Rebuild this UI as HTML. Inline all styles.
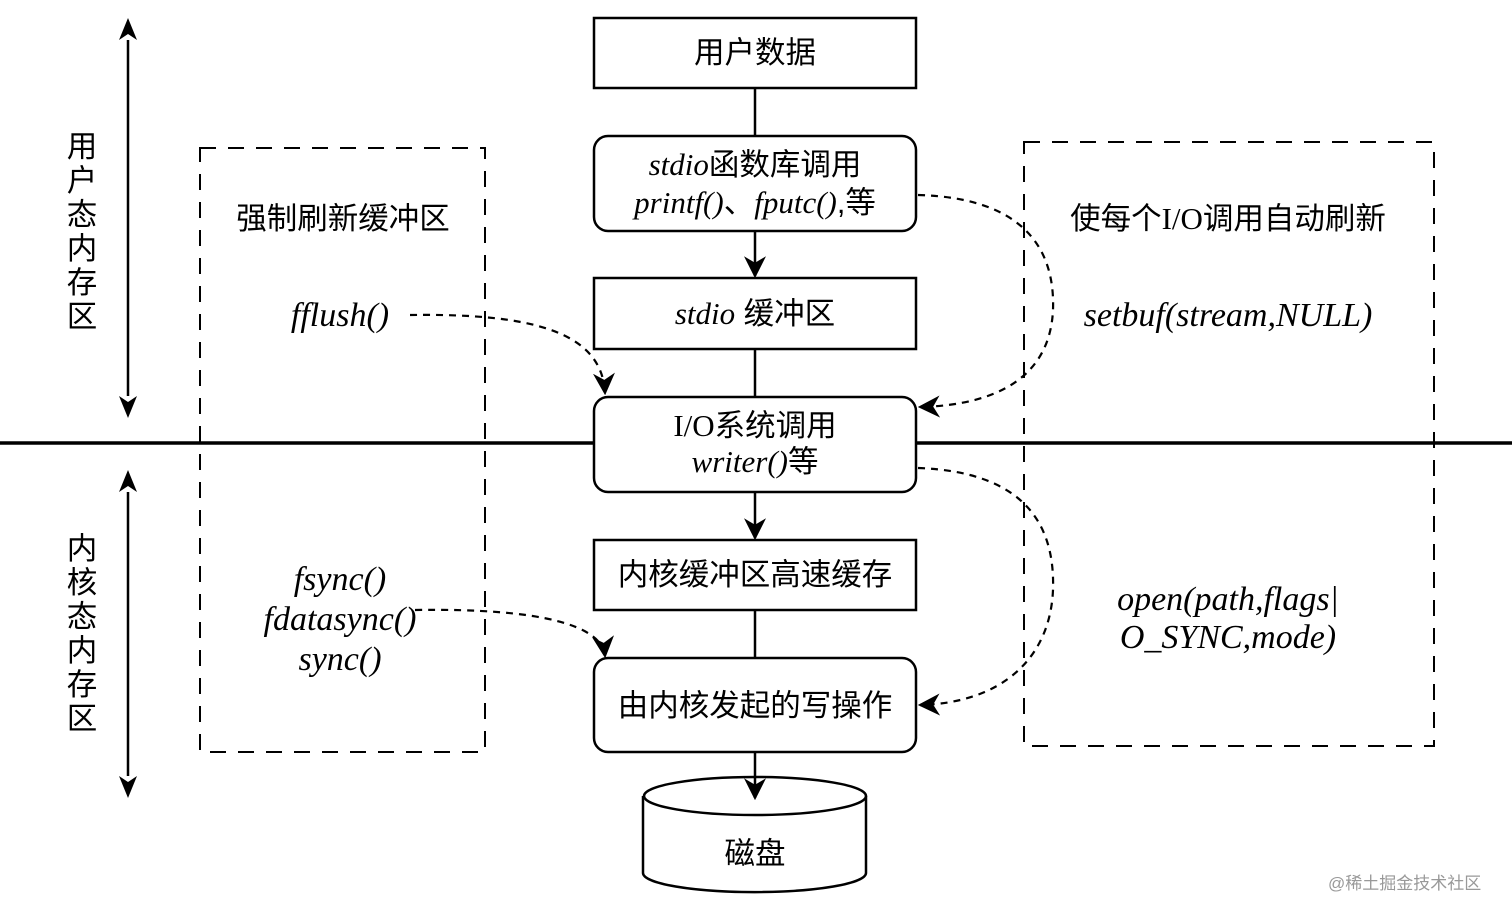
<!DOCTYPE html>
<html><head><meta charset="utf-8"><style>
html,body{margin:0;padding:0;background:#fff;}
svg{display:block;}
text{font-family:"Liberation Sans","Noto Sans CJK SC",sans-serif;fill:#000;}
.it{font-family:"Liberation Serif","Noto Serif CJK SC",serif;font-style:italic;}
</style></head><body>
<svg width="1512" height="917" viewBox="0 0 1512 917" xmlns="http://www.w3.org/2000/svg">
<defs>
<marker id="b" viewBox="0 0 10 10" refX="9" refY="5" markerWidth="22" markerHeight="22" markerUnits="userSpaceOnUse" orient="auto"><path d="M0,0 L10,5 L0,10 L3,5 z" fill="#000"/></marker>
</defs>
<g stroke="#000" stroke-width="2.5" fill="none">
<line x1="0" y1="443" x2="594" y2="443" stroke-width="3.5"/>
<line x1="916" y1="443" x2="1512" y2="443" stroke-width="3.5"/>
<line x1="755" y1="88" x2="755" y2="136"/>
<line x1="755" y1="231" x2="755" y2="276" marker-end="url(#b)"/>
<line x1="755" y1="349" x2="755" y2="397"/>
<line x1="755" y1="492" x2="755" y2="538" marker-end="url(#b)"/>
<line x1="755" y1="610" x2="755" y2="658"/>
<line x1="128" y1="40" x2="128" y2="396"/>
<line x1="128" y1="492" x2="128" y2="776"/>
<rect x="594" y="18" width="322" height="70" fill="#fff"/>
<rect x="594" y="136" width="322" height="95" rx="14" fill="#fff"/>
<rect x="594" y="278" width="322" height="71" fill="#fff"/>
<rect x="594" y="397" width="322" height="95" rx="14" fill="#fff"/>
<rect x="594" y="540" width="322" height="70" fill="#fff"/>
<rect x="594" y="658" width="322" height="94" rx="14" fill="#fff"/>
<path d="M643,796 L643,873 A111,19 0 0 0 866,873 L866,796" fill="#fff"/>
<ellipse cx="755" cy="796" rx="111" ry="19" fill="#fff"/>
<line x1="755" y1="752" x2="755" y2="798" marker-end="url(#b)"/>
<g stroke-width="2" stroke-dasharray="16,12">
<rect x="200" y="148" width="285" height="604"/>
<rect x="1024" y="142" width="410" height="604"/>
</g>
<g stroke-width="2.2" stroke-dasharray="7,6">
<path d="M410,315 C540,313 602,335 605,393" marker-end="url(#b)"/>
<path d="M918,195 C1030,198 1055,255 1053,310 C1050,375 1000,405 920,407" marker-end="url(#b)"/>
<path d="M918,468 C1030,472 1055,530 1053,590 C1050,660 1000,703 920,705" marker-end="url(#b)"/>
<path d="M415,610 C540,608 602,625 605,656" marker-end="url(#b)"/>
</g>
</g>
<path d="M128,18 L119,40 L128,34 L137,40 z M128,418 L119,396 L128,402 L137,396 z M128,470 L119,492 L128,486 L137,492 z M128,798 L119,776 L128,782 L137,776 z" fill="#000"/>
<g text-anchor="middle" style="font-size:30.5px">
<text x="755" y="63">用户数据</text>
<text x="755" y="175"><tspan class="it" style="font-size:31px">stdio</tspan>函数库调用</text>
<text x="755" y="213"><tspan class="it" style="font-size:31px">printf()</tspan>、<tspan class="it" style="font-size:31px">fputc()</tspan>,等</text>
<text x="755" y="324"><tspan class="it" style="font-size:31px">stdio</tspan> 缓冲区</text>
<text x="755" y="436"><tspan class="it" style="font-style:normal;font-family:'Liberation Serif',serif;font-size:31px">I/O</tspan>系统调用</text>
<text x="755" y="472"><tspan class="it" style="font-size:31px">writer()</tspan>等</text>
<text x="755" y="585">内核缓冲区高速缓存</text>
<text x="755" y="716">由内核发起的写操作</text>
<text x="755" y="864">磁盘</text>
<text x="343" y="229">强制刷新缓冲区</text>
<text x="340" y="326" class="it" style="font-size:34px">fflush()</text>
<text x="340" y="590" class="it" style="font-size:34px">fsync()</text>
<text x="340" y="630" class="it" style="font-size:34px">fdatasync()</text>
<text x="340" y="670" class="it" style="font-size:34px">sync()</text>
<text x="1228" y="229">使每个<tspan style="font-family:'Liberation Serif',serif;font-size:31px">I/O</tspan>调用自动刷新</text>
<text x="1228" y="326" class="it" style="font-size:34px">setbuf(stream,NULL)</text>
<text x="1228" y="610" class="it" style="font-size:34px">open(path,flags|</text>
<text x="1228" y="648" class="it" style="font-size:34px">O_SYNC,mode)</text>
<text x="82" y="157">用</text><text x="82" y="191">户</text><text x="82" y="225">态</text><text x="82" y="259">内</text><text x="82" y="293">存</text><text x="82" y="327">区</text>
<text x="82" y="559">内</text><text x="82" y="593">核</text><text x="82" y="627">态</text><text x="82" y="661">内</text><text x="82" y="695">存</text><text x="82" y="729">区</text>
</g>
<text x="1328" y="889" style="font-size:17px;fill:#999">@稀土掘金技术社区</text>
</svg>
</body></html>
